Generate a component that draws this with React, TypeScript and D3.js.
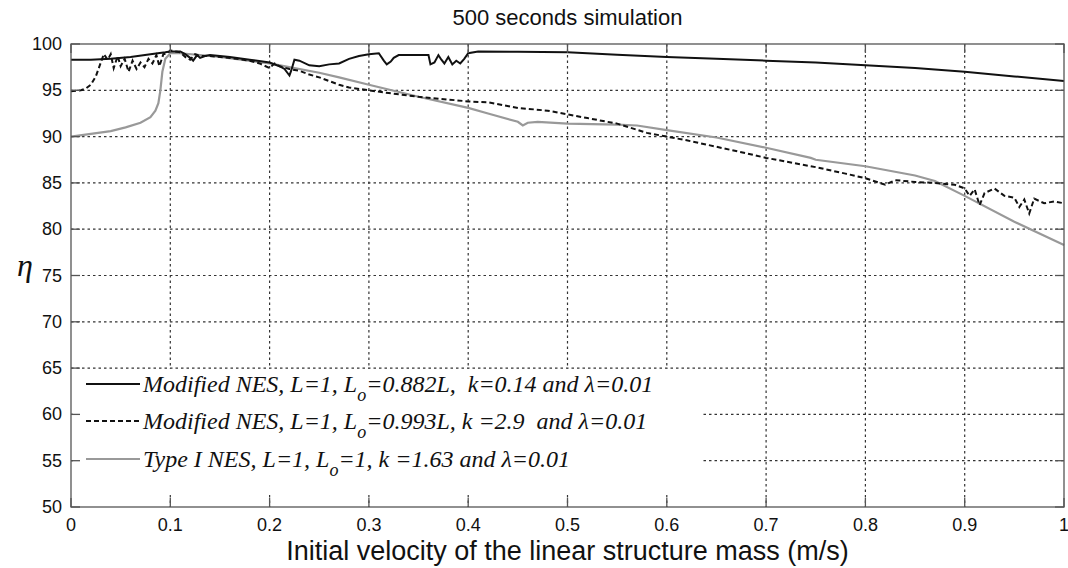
import React from "react";
import * as d3 from "d3";

const xTicks = [0, 0.1, 0.2, 0.3, 0.4, 0.5, 0.6, 0.7, 0.8, 0.9, 1];
const xTickLabels = ["0", "0.1", "0.2", "0.3", "0.4", "0.5", "0.6", "0.7", "0.8", "0.9", "1"];
const yTicks = [50, 55, 60, 65, 70, 75, 80, 85, 90, 95, 100];

const seriesSolid: [number, number][] = [
  [0, 98.3], [0.02, 98.3], [0.04, 98.4], [0.06, 98.6], [0.08, 98.9], [0.095, 99.1], [0.1, 99.2],
  [0.11, 99.2], [0.115, 98.9], [0.12, 98.5], [0.123, 98.2], [0.127, 98.8], [0.13, 98.5], [0.135, 98.7],
  [0.14, 98.8], [0.16, 98.6], [0.18, 98.3], [0.2, 98.0], [0.21, 97.6], [0.215, 97.3], [0.22, 96.6],
  [0.222, 97.2], [0.225, 98.3], [0.23, 98.2], [0.24, 97.7], [0.25, 97.6], [0.26, 97.8], [0.27, 97.9],
  [0.28, 98.4], [0.29, 98.7], [0.3, 98.9], [0.31, 99.0], [0.315, 98.2], [0.318, 97.8], [0.322, 98.1],
  [0.325, 98.5], [0.33, 98.8], [0.36, 98.8], [0.362, 97.8], [0.366, 98.0], [0.37, 98.8], [0.373, 98.3],
  [0.376, 97.9], [0.38, 98.6], [0.384, 97.8], [0.388, 98.2], [0.392, 97.9], [0.396, 98.4], [0.4, 99.0],
  [0.41, 99.2], [0.45, 99.15], [0.5, 99.1], [0.55, 98.85], [0.6, 98.6], [0.65, 98.4], [0.7, 98.2],
  [0.75, 98.0], [0.8, 97.7], [0.85, 97.4], [0.9, 97.0], [0.95, 96.5], [1.0, 96.0],
];

const seriesDashed: [number, number][] = [
  [0, 94.9], [0.01, 95.0], [0.015, 95.2], [0.02, 95.6], [0.025, 96.5], [0.03, 98.0], [0.033, 98.9],
  [0.037, 98.3], [0.04, 98.9], [0.043, 97.4], [0.047, 98.7], [0.05, 97.6], [0.054, 98.4], [0.058, 97.0],
  [0.062, 98.2], [0.066, 97.3], [0.07, 98.0], [0.074, 97.5], [0.078, 98.4], [0.082, 97.9], [0.086, 98.8],
  [0.089, 97.6], [0.093, 98.9], [0.097, 99.0], [0.1, 99.3], [0.11, 99.1], [0.115, 98.6], [0.12, 98.3],
  [0.125, 98.9], [0.13, 98.7], [0.14, 98.7], [0.16, 98.5], [0.18, 98.2], [0.19, 97.9], [0.2, 97.4],
  [0.205, 97.9], [0.21, 97.6], [0.22, 97.3], [0.23, 97.1], [0.24, 96.7], [0.25, 96.4], [0.26, 96.0],
  [0.27, 95.6], [0.28, 95.3], [0.3, 95.0], [0.32, 94.7], [0.35, 94.3], [0.38, 94.0], [0.4, 93.8],
  [0.42, 93.7], [0.45, 93.1], [0.48, 92.8], [0.5, 92.4], [0.52, 92.0], [0.55, 91.4], [0.58, 90.4],
  [0.6, 90.0], [0.62, 89.6], [0.65, 88.9], [0.68, 88.2], [0.7, 87.7], [0.72, 87.3], [0.75, 86.7],
  [0.78, 86.0], [0.8, 85.5], [0.82, 84.8], [0.83, 85.3], [0.85, 85.1], [0.87, 85.0], [0.89, 84.8],
  [0.9, 84.4], [0.905, 83.6], [0.91, 84.3], [0.915, 82.6], [0.92, 83.9], [0.93, 84.4], [0.94, 83.6],
  [0.95, 83.4], [0.955, 82.4], [0.96, 83.2], [0.965, 81.7], [0.97, 83.3], [0.98, 82.8], [0.99, 83.0],
  [1.0, 82.8],
];

const seriesGray: [number, number][] = [
  [0, 90.0], [0.02, 90.3], [0.04, 90.6], [0.055, 91.0], [0.07, 91.5], [0.08, 92.1], [0.085, 92.8],
  [0.088, 93.6], [0.09, 95.0], [0.092, 97.0], [0.095, 98.4], [0.1, 99.0], [0.11, 99.0], [0.15, 98.6],
  [0.2, 97.9], [0.25, 96.9], [0.27, 96.4], [0.3, 95.6], [0.35, 94.3], [0.4, 93.1], [0.42, 92.5],
  [0.45, 91.6], [0.455, 91.2], [0.46, 91.5], [0.47, 91.6], [0.5, 91.4], [0.55, 91.3], [0.57, 91.2],
  [0.6, 90.7], [0.65, 89.9], [0.7, 88.8], [0.745, 87.7], [0.75, 87.5], [0.8, 86.8], [0.85, 85.8],
  [0.87, 85.2], [0.9, 83.6], [0.95, 80.8], [1.0, 78.3],
];

const title = "500 seconds simulation";
const xLabel = "Initial velocity of the linear structure mass (m/s)";
const yLabel = "η";

const legendRows = [
  { pre: "Modified NES, L=1, L", sub: "o", post: "=0.882L,  k=0.14 and λ=0.01", style: "solid" },
  { pre: "Modified NES, L=1, L", sub: "o", post: "=0.993L, k =2.9  and λ=0.01", style: "dashed" },
  { pre: "Type I NES, L=1, L", sub: "o", post: "=1, k =1.63 and λ=0.01", style: "gray" },
];

export default function App() {
  const W = 1068, H = 568;
  const x0 = 71, x1 = 1064, yT = 44, yB = 507;
  const x = d3.scaleLinear().domain([0, 1]).range([x0, x1]);
  const y = d3.scaleLinear().domain([50, 100]).range([yB, yT]);
  const line = d3.line<[number, number]>().x((d) => x(d[0])).y((d) => y(d[1]));
  const tickLen = 9;
  const gridColor = "#333";
  const axisColor = "#555";
  const styleFor = (s: string) =>
    s === "solid"
      ? { stroke: "#111", strokeWidth: 2, dash: undefined }
      : s === "dashed"
      ? { stroke: "#111", strokeWidth: 2, dash: "5,3" }
      : { stroke: "#999", strokeWidth: 2, dash: undefined };

  const legX = 73, legY = 369, legW = 628, legH = 125;
  const rowY = [384, 421, 459];

  return (
    <svg width={W} height={H} style={{ position: "absolute", left: 0, top: 0, background: "#fff" }}>
      <rect x={0} y={0} width={W} height={H} fill="#fff" />
      {/* grid */}
      {xTicks.slice(1, -1).map((t) => (
        <line key={"gx" + t} x1={x(t)} x2={x(t)} y1={yT} y2={yB} stroke={gridColor} strokeWidth={1.2} strokeDasharray="2.5,3" />
      ))}
      {yTicks.slice(1, -1).map((t) => (
        <line key={"gy" + t} x1={x0} x2={x1} y1={y(t)} y2={y(t)} stroke={gridColor} strokeWidth={1.2} strokeDasharray="2.5,3" />
      ))}
      {/* series */}
      <path d={line(seriesGray) || ""} fill="none" stroke="#999" strokeWidth={2.2} />
      <path d={line(seriesDashed) || ""} fill="none" stroke="#111" strokeWidth={2} strokeDasharray="5,3" />
      <path d={line(seriesSolid) || ""} fill="none" stroke="#111" strokeWidth={2} />
      {/* legend */}
      <rect x={legX} y={legY} width={legW} height={legH} fill="#fff" />
      {legendRows.map((r, i) => {
        const st = styleFor(r.style);
        return (
          <g key={"leg" + i}>
            <line x1={86} x2={140} y1={rowY[i]} y2={rowY[i]} stroke={st.stroke} strokeWidth={st.strokeWidth} strokeDasharray={st.dash} />
            <text x={143} y={rowY[i] + 8} fontFamily="Liberation Serif" fontStyle="italic" fontSize={24} fill="#111" style={{ whiteSpace: "pre" }}>
              {r.pre}
              <tspan dy={9} fontSize={18}>{r.sub}</tspan>
              <tspan dy={-9}>{r.post}</tspan>
            </text>
          </g>
        );
      })}
      {/* axes box */}
      <rect x={x0} y={yT} width={x1 - x0} height={yB - yT} fill="none" stroke={axisColor} strokeWidth={1.3} />
      {xTicks.map((t) => (
        <g key={"tx" + t}>
          <line x1={x(t)} x2={x(t)} y1={yB} y2={yB - tickLen} stroke={axisColor} strokeWidth={1.3} />
          <line x1={x(t)} x2={x(t)} y1={yT} y2={yT + tickLen} stroke={axisColor} strokeWidth={1.3} />
        </g>
      ))}
      {yTicks.map((t) => (
        <g key={"ty" + t}>
          <line x1={x0} x2={x0 + tickLen} y1={y(t)} y2={y(t)} stroke={axisColor} strokeWidth={1.3} />
          <line x1={x1} x2={x1 - tickLen} y1={y(t)} y2={y(t)} stroke={axisColor} strokeWidth={1.3} />
        </g>
      ))}
      {/* tick labels */}
      {xTicks.map((t, i) => (
        <text key={"lx" + t} x={x(t)} y={531} textAnchor="middle" fontFamily="Liberation Sans" fontSize={18} fill="#111">
          {xTickLabels[i]}
        </text>
      ))}
      {yTicks.map((t) => (
        <text key={"ly" + t} x={62} y={y(t) + 6} textAnchor="end" fontFamily="Liberation Sans" fontSize={18} fill="#111">
          {t}
        </text>
      ))}
      <text x={(x0 + x1) / 2} y={25} textAnchor="middle" fontFamily="Liberation Sans" fontSize={22} fill="#111">
        {title}
      </text>
      <text x={(x0 + x1) / 2} y={560} textAnchor="middle" fontFamily="Liberation Sans" fontSize={27} fill="#111">
        {xLabel}
      </text>
      <text x={25} y={276} textAnchor="middle" fontFamily="Liberation Serif" fontStyle="italic" fontSize={32} fill="#111">
        {yLabel}
      </text>
    </svg>
  );
}
